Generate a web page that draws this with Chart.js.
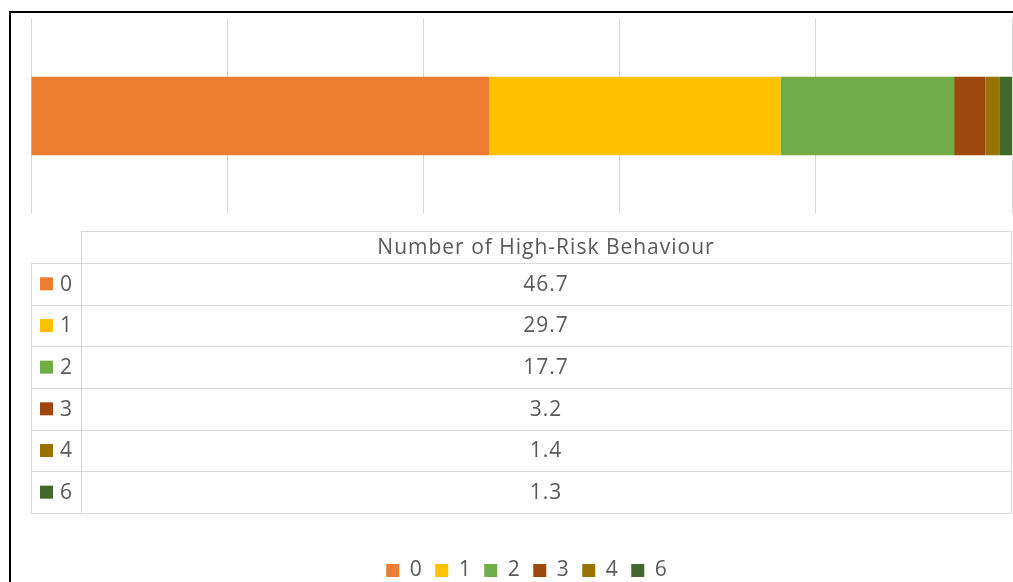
<!DOCTYPE html>
<html>
<head>
<meta charset="utf-8">
<script src="https://cdn.jsdelivr.net/npm/chart.js@4.4.1/dist/chart.umd.min.js"></script>
<style>
  html, body { margin: 0; padding: 0; background: #ffffff; }
  #wrap { width: 1013px; height: 582px; position: relative; }
</style>
</head>
<body>
<div id="wrap"><canvas id="c" width="1013" height="582"></canvas></div>
<script>
// ---- data ----
const categoryLabel = "Number of High-Risk Behaviour";
const seriesNames = ["0", "1", "2", "3", "4", "6"];
const seriesValues = [46.7, 29.7, 17.7, 3.2, 1.4, 1.3];
const seriesColors = ["#ED7D31", "#FFC000", "#70AD47", "#9E480E", "#997300", "#43682B"];
const axisMin = 0;
const axisMax = 100;
const axisStep = 20;

const FONT = "'Open Sans', 'Noto Sans', sans-serif";
const TEXT = "#595959";
const LINE = "#d9d9d9";

const bgPlugin = {
  id: 'bg',
  beforeDraw(chart) {
    const ctx = chart.ctx;
    ctx.save();
    ctx.fillStyle = '#ffffff';
    ctx.fillRect(0, 0, chart.width, chart.height);
    ctx.restore();
  }
};

const legendTweak = {
  id: 'legendTweak',
  afterInit(chart) {
    const lg = chart.legend;
    if (lg && !lg._patched) {
      const orig = lg.fit.bind(lg);
      lg.fit = function () { orig(); this.height = Math.max(0, this.height - 10); };
      lg._patched = true;
    }
  },
  afterLayout(chart) {
    const lg = chart.legend;
    if (lg) { lg.left += 5; lg.right += 5; }
  }
};

const tablePlugin = {
  id: 'dataTable',
  afterDraw(chart) {
    const ctx = chart.ctx;
    const area = chart.chartArea;
    const left = area.left;
    const right = area.right - 1;
    const keyColW = 50;
    const divX = left + keyColW;
    const headTop = 231, headBottom = 263;
    const rowH = (513 - headBottom) / seriesNames.length;
    const tableBottom = headBottom + rowH * seriesNames.length;
    ctx.save();
    ctx.strokeStyle = LINE;
    ctx.lineWidth = 1;
    const hl = (x1, x2, y) => { ctx.beginPath(); ctx.moveTo(x1, Math.round(y) + 0.5); ctx.lineTo(x2, Math.round(y) + 0.5); ctx.stroke(); };
    const vl = (x, y1, y2) => { ctx.beginPath(); ctx.moveTo(Math.round(x) + 0.5, y1); ctx.lineTo(Math.round(x) + 0.5, y2); ctx.stroke(); };
    hl(divX, right, headTop);
    vl(divX, headTop, tableBottom);
    vl(right, headTop, tableBottom);
    vl(left, headBottom, tableBottom);
    for (let i = 0; i <= seriesNames.length; i++) {
      hl(left, right, headBottom + rowH * i);
    }
    ctx.fillStyle = TEXT;
    ctx.font = "21px " + FONT;
    ctx.textBaseline = 'middle';
    ctx.textAlign = 'center';
    if ('letterSpacing' in ctx) ctx.letterSpacing = '1px';
    const cx = (divX + right) / 2;
    ctx.fillText(categoryLabel, cx, (headTop + headBottom) / 2 + 1);
    for (let i = 0; i < seriesNames.length; i++) {
      const cy = headBottom + rowH * (i + 0.5);
      ctx.textAlign = 'center';
      ctx.fillStyle = TEXT;
      ctx.fillText(seriesValues[i].toFixed(1), cx, cy + 1);
      ctx.fillStyle = seriesColors[i];
      ctx.fillRect(left + 9, cy - 6.5, 13, 13);
      ctx.fillStyle = TEXT;
      ctx.textAlign = 'left';
      ctx.fillText(seriesNames[i], left + 29, cy + 1);
    }
    if ('letterSpacing' in ctx) ctx.letterSpacing = '0px';
    ctx.restore();
  }
};

const framePlugin = {
  id: 'frame',
  afterDraw(chart) {
    const ctx = chart.ctx;
    ctx.save();
    ctx.strokeStyle = '#000000';
    ctx.lineWidth = 2;
    ctx.beginPath();
    ctx.moveTo(10, chart.height);
    ctx.lineTo(10, 12);
    ctx.lineTo(chart.width, 12);
    ctx.stroke();
    ctx.restore();
  }
};

const datasets = seriesNames.map((name, i) => ({
  label: name,
  data: [seriesValues[i]],
  backgroundColor: seriesColors[i],
  borderWidth: 0,
  categoryPercentage: 0.4,
  barPercentage: 1.0
}));

const PAD_BOTTOM = 1;

new Chart(document.getElementById('c'), {
  type: 'bar',
  data: { labels: [categoryLabel], datasets },
  options: {
    indexAxis: 'y',
    responsive: false,
    animation: false,
    devicePixelRatio: 1,
    layout: { padding: { top: 18, left: 31, right: 1, bottom: PAD_BOTTOM } },
    scales: {
      x: {
        stacked: true,
        min: axisMin,
        max: axisMax,
        ticks: { display: false, stepSize: axisStep },
        grid: { color: LINE, lineWidth: 1, drawTicks: false },
        border: { display: false },
        afterFit(scale) {
          const lg = scale.chart.legend;
          const lh = lg ? lg.height : 0;
          scale.height = Math.max(0, scale.chart.height - PAD_BOTTOM - lh - 214);
        }
      },
      y: {
        stacked: true,
        display: false
      }
    },
    plugins: {
      legend: {
        position: 'bottom',
        labels: {
          boxWidth: 13,
          boxHeight: 13,
          padding: 13.5,
          color: TEXT,
          font: { family: FONT, size: 21 }
        }
      },
      tooltip: { enabled: false },
      title: { display: false }
    }
  },
  plugins: [bgPlugin, legendTweak, tablePlugin, framePlugin]
});
</script>
</body>
</html>
